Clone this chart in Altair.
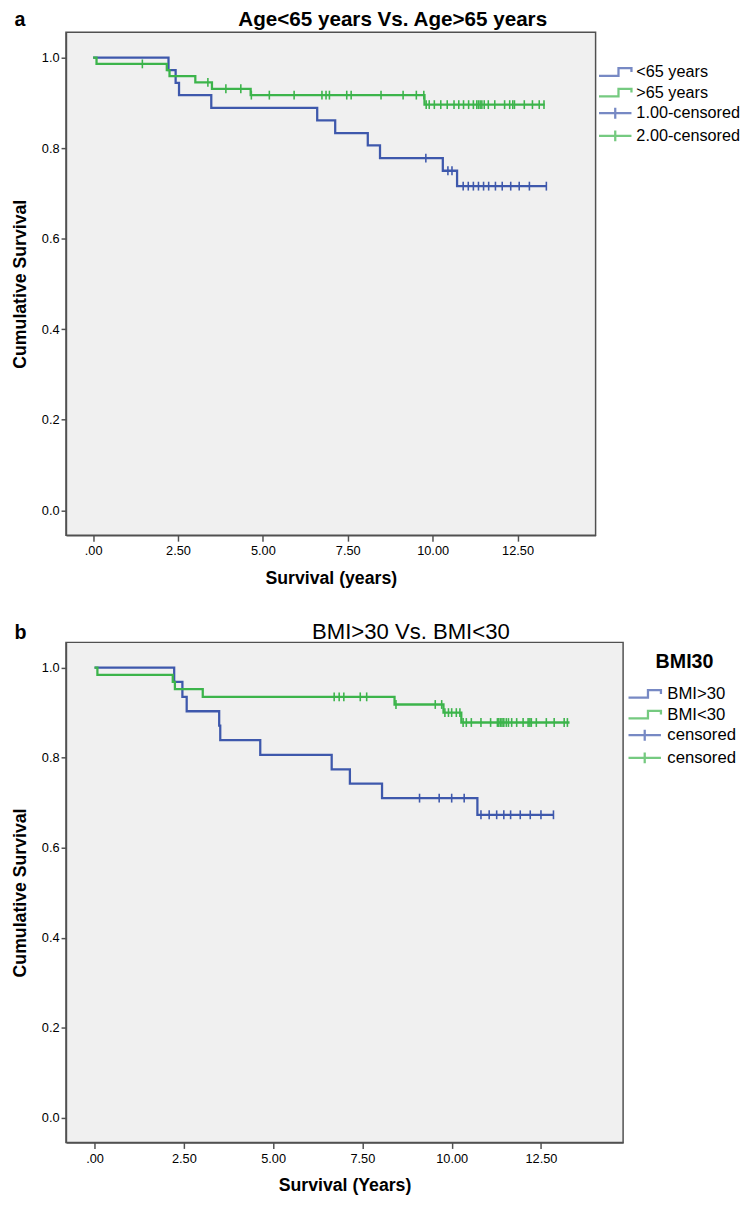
import altair as alt
import pandas as pd

FONT = "Liberation Sans"
BLUE = "#3e58ac"
GREEN = "#3cb44b"
FRAME = "#505050"

# ---------------- Panel a : Age<65 years Vs. Age>65 years ----------------
a_labels = ["<65 years", ">65 years", "1.00-censored", "2.00-censored"]
a_g1_time = [0.0, 2.22, 2.43, 2.53, 3.48, 6.60, 7.13, 8.09, 8.45, 10.30, 10.72, 13.35]
a_g1_surv = [1.000, 0.972, 0.944, 0.917, 0.889, 0.861, 0.833, 0.806, 0.778, 0.750, 0.716, 0.716]
a_g1_cens = [9.80, 10.45, 10.57, 10.90, 11.05, 11.20, 11.35, 11.50, 11.65, 11.85,
             12.05, 12.30, 12.55, 12.85, 13.35]
a_g2_time = [0.0, 0.10, 2.17, 2.25, 3.01, 3.50, 4.64, 9.76, 13.30]
a_g2_surv = [1.000, 0.986, 0.972, 0.959, 0.945, 0.931, 0.917, 0.896, 0.896]
a_g2_cens = [1.45, 3.38, 3.91, 4.35, 4.66, 5.19, 5.92, 6.74, 6.86, 6.96, 7.47, 7.60,
             8.48, 9.13, 9.52, 9.74, 9.81, 9.90, 10.05, 10.24, 10.43, 10.63, 10.77,
             10.91, 11.06, 11.20, 11.30, 11.35, 11.40, 11.45, 11.52, 11.64, 11.83,
             12.12, 12.27, 12.36, 12.41, 12.70, 12.94, 13.14, 13.28]

# ---------------- Panel b : BMI>30 Vs. BMI<30 ----------------
b_labels = ["BMI>30", "BMI<30", "censored BMI>30", "censored BMI<30"]
b_g1_time = [0.0, 2.23, 2.46, 2.58, 3.49, 3.52, 4.64, 6.64, 7.15, 8.05, 10.72, 12.85]
b_g1_surv = [1.000, 0.968, 0.935, 0.903, 0.871, 0.839, 0.806, 0.774, 0.742, 0.710, 0.673, 0.673]
b_g1_cens = [9.10, 9.65, 10.00, 10.35, 10.82, 11.05, 11.26, 11.46, 11.65, 11.92,
             12.20, 12.50, 12.85]
b_g2_time = [0.0, 0.08, 2.19, 2.25, 3.03, 8.40, 9.77, 10.27, 13.30]
b_g2_surv = [1.000, 0.984, 0.968, 0.952, 0.935, 0.918, 0.900, 0.878, 0.878]
b_g2_cens = [6.71, 6.85, 6.98, 7.44, 7.62, 8.44, 9.54, 9.72, 9.81, 9.91, 10.00, 10.13,
             10.23, 10.32, 10.41, 10.55, 10.82, 11.09, 11.28, 11.32, 11.37, 11.41,
             11.46, 11.53, 11.59, 11.68, 11.82, 12.00, 12.14, 12.19, 12.23, 12.37,
             12.65, 12.87, 13.15, 13.24]

x_ticks = [0, 2.5, 5, 7.5, 10, 12.5]
y_ticks = [0, 0.2, 0.4, 0.6, 0.8, 1.0]

STEP = "M-1.5,0.35H0.3V-0.35H1.5V0"
CROSS = "M-1.5,0H1.5M0,-0.5V0.5"
TICK = "M0,-1V1"


def surv_at(times, survs, t):
    s = survs[0]
    for ti, si in zip(times, survs):
        if ti <= t:
            s = si
    return s


def frames(groups):
    lines, cens = [], []
    for line_lab, cens_lab, ts, ss, cs in groups:
        lines += [{"t": t, "s": s, "label": line_lab} for t, s in zip(ts, ss)]
        cens += [{"t": c, "s": surv_at(ts, ss, c), "label": cens_lab} for c in cs]
    return pd.DataFrame(lines), pd.DataFrame(cens)


a_lines, a_cens = frames([
    (a_labels[0], a_labels[2], a_g1_time, a_g1_surv, a_g1_cens),
    (a_labels[1], a_labels[3], a_g2_time, a_g2_surv, a_g2_cens),
])
b_lines, b_cens = frames([
    (b_labels[0], b_labels[2], b_g1_time, b_g1_surv, b_g1_cens),
    (b_labels[1], b_labels[3], b_g2_time, b_g2_surv, b_g2_cens),
])

XSCALE = alt.Scale(domain=[-0.8, 14.8], nice=False, zero=False)
YSCALE = alt.Scale(domain=[-0.055, 1.056], nice=False, zero=False)


def km_panel(lines, cens, labels, legend, letter, title, title_size, title_weight,
             title_cx, title_y, xtitle, width, height):
    x_main = alt.X("t:Q", scale=XSCALE,
                   axis=alt.Axis(orient="bottom", title=xtitle, values=x_ticks,
                                 labelExpr="datum.value == 0 ? '.00' : format(datum.value, '.2f')",
                                 tickSize=6, labelPadding=4, titlePadding=12))
    y_main = alt.Y("s:Q", scale=YSCALE,
                   axis=alt.Axis(orient="left", title="Cumulative Survival", values=y_ticks,
                                 format=".1f", tickSize=5, labelPadding=2, titlePadding=12))
    # top axis carries the panel heading, right axis carries the panel letter
    x_head = alt.X("t:Q", scale=XSCALE,
                   axis=alt.Axis(orient="top", title=title, domain=False, ticks=False,
                                 labels=False, grid=False, minExtent=0, offset=0,
                                 titleX=title_cx, titleY=title_y,
                                 titleAlign="center", titleBaseline="alphabetic",
                                 titleFontSize=title_size, titleFontWeight=title_weight))
    y_head = alt.Y("s:Q", scale=YSCALE,
                   axis=alt.Axis(orient="right", title=letter, domain=False, ticks=False,
                                 labels=False, grid=False, minExtent=0, offset=0, titleAngle=0,
                                 titleX=-(width + 53), titleY=title_y,
                                 titleAlign="left", titleBaseline="alphabetic",
                                 titleFontSize=20, titleFontWeight="bold"))
    x_none = alt.X("t:Q", scale=XSCALE, axis=None)
    y_none = alt.Y("s:Q", scale=YSCALE, axis=None)
    color = alt.Color("label:N",
                      scale=alt.Scale(domain=labels, range=[BLUE, GREEN, BLUE, GREEN]),
                      legend=legend)
    shape = alt.Shape("label:N",
                      scale=alt.Scale(domain=labels, range=[STEP, STEP, CROSS, CROSS]),
                      legend=legend)
    key = alt.Chart(cens).mark_point(filled=False, clip=True, yOffset=5000, strokeWidth=2.3).encode(
        x=x_none, y=y_none, color=color, shape=shape)
    curve = alt.Chart(lines).mark_line(interpolate="step-after", strokeWidth=2.3).encode(
        x=x_main, y=y_main, color=color)
    marks = alt.Chart(cens).mark_point(filled=False, shape=TICK, size=81, strokeWidth=1.6,
                                       opacity=1).encode(x=x_head, y=y_head, color=color)
    return (alt.layer(key, curve, marks)
            .resolve_axis(x="independent", y="independent")
            .properties(width=width, height=height))


leg_a = alt.Legend(title=None, orient="none", legendX=546.5, legendY=28, direction="vertical",
                   labelFont=FONT, labelFontSize=16.5, labelColor="black",
                   symbolSize=484, symbolStrokeWidth=2.3, rowPadding=0, labelOffset=9,
                   padding=0)
leg_b = alt.Legend(title="BMI30", orient="none", legendX=576.5, legendY=10, direction="vertical",
                   titleFont=FONT, titleFontSize=20, titleFontWeight="bold", titleColor="black",
                   titleAnchor="middle", titlePadding=10,
                   labelFont=FONT, labelFontSize=17, labelColor="black",
                   labelExpr="split(datum.label, ' ')[0]",
                   symbolSize=484, symbolStrokeWidth=2.3, rowPadding=-2, labelOffset=10.5,
                   padding=0)

panel_a = km_panel(a_lines, a_cens, a_labels, leg_a, "a",
                   "Age<65 years Vs. Age>65 years", 21, "bold", 332, -6.7,
                   "Survival (years)", 539, 512)
panel_b = km_panel(b_lines, b_cens, b_labels, leg_b, "b",
                   "BMI>30 Vs. BMI<30", 22.5, "normal", 350.5, -4,
                   "Survival (Years)", 567, 509)

chart = (
    alt.vconcat(panel_a, panel_b, spacing=109, bounds="flush")
    .resolve_scale(color="independent", shape="independent", x="independent", y="independent")
    .properties(padding={"left": 3, "top": -11, "right": 0, "bottom": 0})
    .configure_view(fill="#f0f0f0", stroke=FRAME, strokeWidth=1.5)
    .configure_axis(domainColor=FRAME, domainWidth=1.5, tickColor=FRAME, tickWidth=1.5,
                    labelFont=FONT, labelFontSize=13, labelColor="black",
                    titleFont=FONT, titleFontSize=18, titleFontWeight="bold",
                    titleColor="black", grid=False)
    .configure_title(font=FONT, color="black")
)

chart.save("out.html", embed_options={"renderer": "svg", "actions": False})
